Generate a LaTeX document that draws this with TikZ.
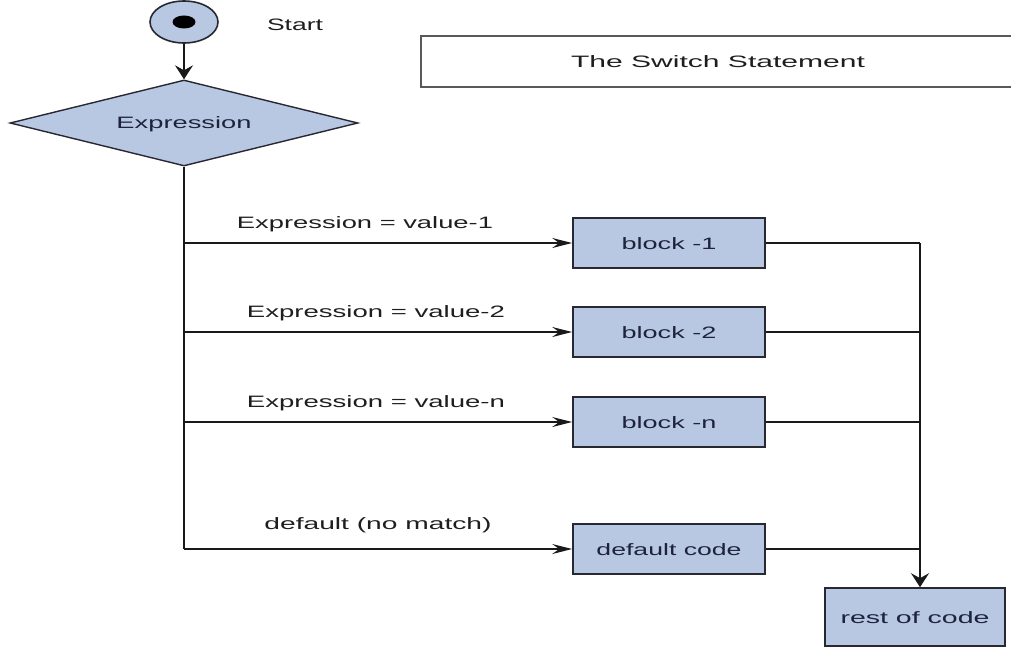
\documentclass[tikz,border=0pt]{standalone}
\usepackage{fontspec}
\setmainfont{Liberation Sans}
\usepackage{graphicx}
\usetikzlibrary{shapes.geometric,arrows.meta}
\definecolor{boxfill}{RGB}{184,200,226}
\definecolor{boxline}{RGB}{40,40,50}
\definecolor{txt}{RGB}{30,30,30}
\definecolor{boxtxt}{RGB}{30,35,60}
\newcommand{\stx}[2]{\resizebox{#1pt}{\height}{#2}}
\begin{document}
\begin{tikzpicture}[x=1pt,y=-1pt,
 every node/.style={font=\fontsize{16.5}{19}\selectfont, inner sep=0pt},
 blk/.style={draw=boxline, line width=1.6pt, fill=boxfill, rectangle, minimum width=192pt, minimum height=50pt, text=boxtxt, text height=12pt, text depth=0pt},
 lbl/.style={anchor=base, text=txt},
 conn/.style={line width=1.3pt, draw=black!90},
 harrow/.style={-{Stealth[length=20pt,width=10pt,inset=7pt]}},
 varrow/.style={-{Stealth[length=14pt,width=18pt,inset=5pt]}},
]
\useasboundingbox (0,0) rectangle (1011,647);

% start
\node[ellipse, draw=boxline, line width=1.6pt, fill=boxfill, minimum width=68pt, minimum height=42pt] (start) at (184,22) {};
\node[ellipse, fill=black, minimum width=23pt, minimum height=13pt] (dot) at (start.center) {};
\node[lbl] (starttxt) at (295,31) {\stx{56}{Start}};

% title
\node[draw=black!65, line width=1.4pt, fill=white, minimum width=594pt, minimum height=51pt, text=txt, text height=12pt, text depth=0pt] (title) at (718,61.5) {\stx{294}{The Switch Statement}};

% decision
\node[diamond, draw=boxline, line width=1.4pt, fill=boxfill, minimum width=348pt, minimum height=86pt, shape aspect=4, text=boxtxt, text height=12pt, text depth=0pt] (expr) at (184,123) {\stx{135}{Expression}};

% blocks
\node[blk] (b1) at (669,243) {\stx{95}{block -1}};
\node[blk] (b2) at (669,332) {\stx{95}{block -2}};
\node[blk] (bn) at (669,422) {\stx{95}{block -n}};
\node[blk] (bd) at (669,549) {\stx{145}{default code}};
\node[blk, minimum width=180pt, minimum height=58pt] (rest) at (915,617) {\stx{149}{rest of code}};

% labels
\node[lbl] (l1) at (365,228) {\stx{256}{Expression = value-1}};
\node[lbl] (l2) at (376,317) {\stx{258}{Expression = value-2}};
\node[lbl] (ln) at (376,407) {\stx{258}{Expression = value-n}};
\node[lbl] (ld) at (378,529) {\stx{227}{default (no match)}};

% connectors
\draw[conn, varrow] (start) -- (expr.north);
\draw[conn] (expr.south) -- (expr.south |- bd.west);
\foreach \b in {b1,b2,bn,bd}
  \draw[conn, harrow] (expr.south |- \b.west) -- (\b.west);
\coordinate (jx) at (920,0);
\foreach \b in {b1,b2,bn,bd}
  \draw[conn] (\b.east) -- (jx |- \b.east);
\draw[conn, varrow] (jx |- b1.east) -- (jx |- rest.north);
\end{tikzpicture}
\end{document}
